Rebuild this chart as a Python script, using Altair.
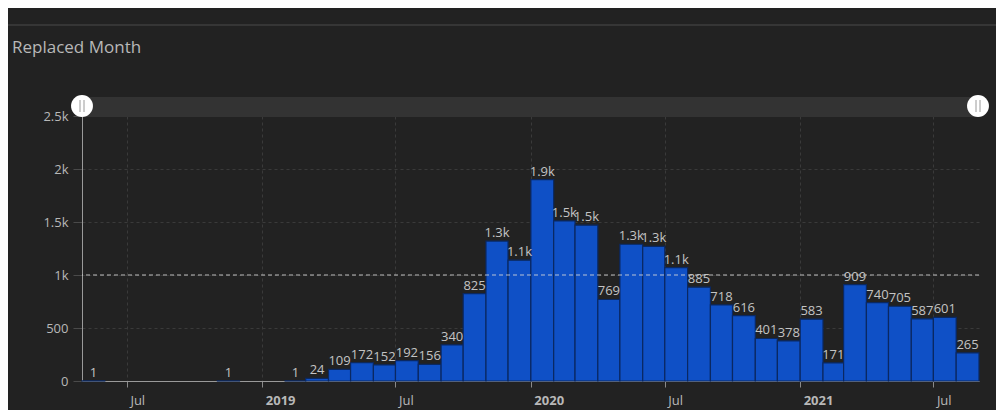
import altair as alt
import pandas as pd

# ---- data ----
months = [
    "2018-05", "2018-11",
    "2019-02", "2019-03", "2019-04", "2019-05", "2019-06", "2019-07",
    "2019-08", "2019-09", "2019-10", "2019-11", "2019-12",
    "2020-01", "2020-02", "2020-03", "2020-04", "2020-05", "2020-06",
    "2020-07", "2020-08", "2020-09", "2020-10", "2020-11", "2020-12",
    "2021-01", "2021-02", "2021-03", "2021-04", "2021-05", "2021-06",
    "2021-07", "2021-08",
]
counts = [
    1, 1,
    1, 24, 109, 172, 152, 192,
    156, 340, 825, 1320, 1140,
    1900, 1510, 1470, 769, 1290, 1270,
    1070, 885, 718, 616, 401, 378,
    583, 171, 909, 740, 705, 587,
    601, 265,
]
y_ticks = [0, 500, 1000, 1500, 2000, 2500]
reference_value = [1000]
chart_title = "Replaced Month"

df = pd.DataFrame({"month": [m + "-01" for m in months], "count": counts})

FONT = "Open Sans"
BG = "#222222"
W, H = 897, 265

x_scale = alt.Scale(
    type="utc",
    domain=[alt.DateTime(year=2018, month=5, date=1, utc=True),
            alt.DateTime(year=2021, month=9, date=1, utc=True)],
    nice=False,
)
x_vals = [alt.DateTime(year=y, month=m, date=1, utc=True)
          for (y, m) in [(2018, 7), (2019, 1), (2019, 7), (2020, 1),
                         (2020, 7), (2021, 1), (2021, 7)]]

x_axis = alt.Axis(
    values=x_vals,
    labelExpr="utcmonth(datum.value) == 0 ? utcFormat(datum.value, '%Y') : 'Jul'",
    labelFontWeight={"condition": {"test": "utcmonth(datum.value) == 0", "value": "bold"},
                     "value": "normal"},
    title=None, grid=True, gridColor="#3a3a3a", gridDash=[3, 3],
    domainColor="#9a9a9a", tickColor="#8a8a8a", tickSize=6,
    labelAlign="left", labelOffset=3, labelPadding=7,
    labelColor="#b8b8b8", labelFontSize=13, labelFont=FONT,
)
y_axis = alt.Axis(
    values=y_ticks,
    labelExpr="datum.value >= 1000 ? (datum.value / 1000) + 'k' : datum.value",
    title=None, grid=True, gridColor="#3a3a3a", gridDash=[3, 3],
    domainColor="#9a9a9a", tickColor="#4a4a4a", tickSize=9, labelPadding=5,
    labelColor="#b8b8b8", labelFontSize=13, labelFont=FONT,
)
y_scale = alt.Scale(domain=[0, 2500], nice=False)

base = alt.Chart(df).transform_calculate(
    start="time(toDate(datum.month))",
    end="utc(utcyear(toDate(datum.month)), utcmonth(toDate(datum.month)) + 1, 1)",
    zero="0",
).transform_calculate(
    mid="(datum.start + datum.end) / 2",
    label="datum.count >= 1000 ? format(datum.count / 1000, '.1f') + 'k' : '' + datum.count",
)

bars = base.mark_bar(color="#0f50c6", stroke="#0a2862", strokeWidth=1.2).encode(
    x=alt.X("start:T", scale=x_scale, axis=x_axis),
    x2="end:T",
    y=alt.Y("count:Q", scale=y_scale, axis=y_axis),
    y2="zero:Q",
)

labels = base.mark_text(
    baseline="bottom", dy=-1, color="#c4c4c4", fontSize=13, font=FONT
).encode(
    x=alt.X("mid:T", scale=x_scale),
    y=alt.Y("count:Q", scale=y_scale),
    text="label:N",
)

ref_rule = alt.Chart(pd.DataFrame({"ref": reference_value})).mark_rule(
    color="#d8d8d8", strokeDash=[4, 3], strokeWidth=1, opacity=0.85
).encode(y=alt.Y("ref:Q", scale=y_scale))

one = alt.Data(values=[{"k": 1}])

slider_track = alt.Chart(one).mark_rect(color="#333333").encode(
    x=alt.value(0), x2=alt.value(W), y=alt.value(-19), y2=alt.value(1)
)
handle_l = alt.Chart(one).mark_circle(color="#ffffff", opacity=1, size=480).encode(
    x=alt.value(0), y=alt.value(-10)
)
handle_r = alt.Chart(one).mark_circle(color="#ffffff", opacity=1, size=480).encode(
    x=alt.value(W - 1), y=alt.value(-10)
)
grips = []
for cx in (0, W - 1):
    for off in (-2, 2):
        grips.append(
            alt.Chart(one).mark_rule(color="#9a9a9a", strokeWidth=1).encode(
                x=alt.value(cx + off), y=alt.value(-16), y2=alt.value(-4)
            )
        )

title_text = alt.Chart(one).mark_text(
    align="left", baseline="middle", fontSize=17, font=FONT, color="#b8b8b8"
).encode(x=alt.value(-70), y=alt.value(-68), text=alt.value(chart_title))

separator = alt.Chart(one).mark_rule(color="#363636", strokeWidth=2).encode(
    x=alt.value(-74), x2=alt.value(914), y=alt.value(-91)
)

chart = alt.layer(
    bars, ref_rule, labels, slider_track, handle_l, handle_r, *grips,
    title_text, separator,
).properties(
    width=W, height=H,
    autosize=alt.AutoSizeParams(type="none"),
    padding={"left": 74, "top": 108, "right": 17, "bottom": 29},
    background=BG,
).configure_view(stroke=None)

chart.save("out.html", embed_options={"renderer": "svg", "actions": False})
